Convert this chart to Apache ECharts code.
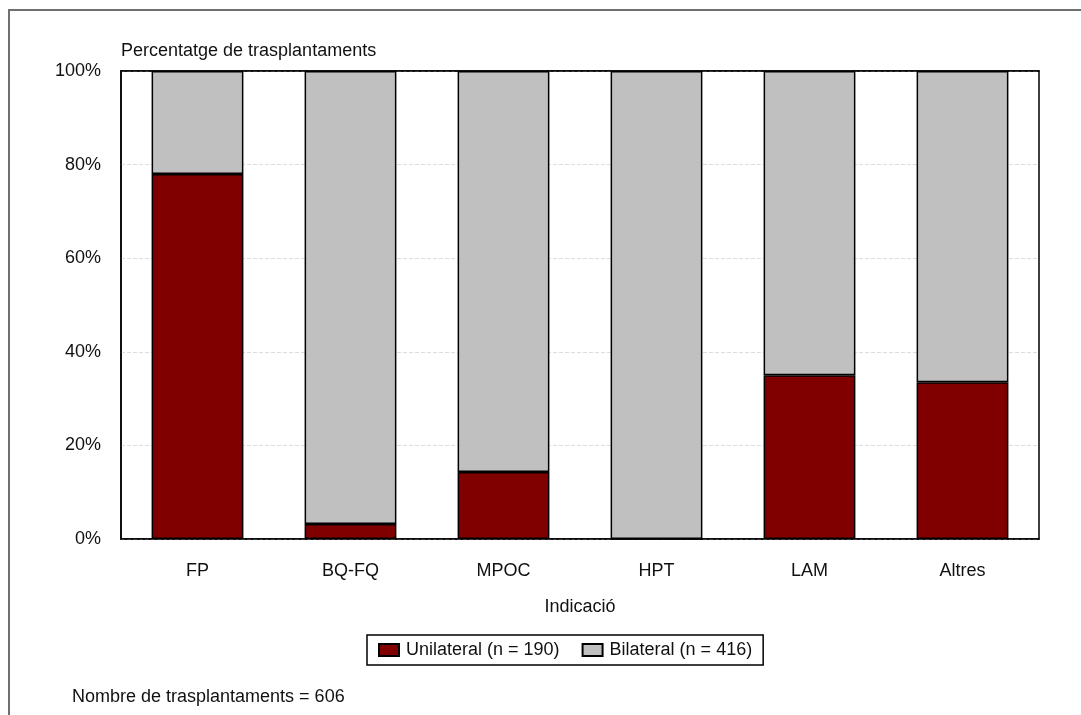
<!DOCTYPE html>
<html>
<head>
<meta charset="utf-8">
<script src="https://cdn.jsdelivr.net/npm/echarts@6/dist/echarts.min.js"></script>
<style>
  html, body { margin: 0; padding: 0; background: #fff; }
  #main { width: 1081px; height: 715px; }
</style>
</head>
<body>
<div id="main"></div>
<script>
// dades llegides de la figura (percentatge)
var categories = ['FP', 'BQ-FQ', 'MPOC', 'HPT', 'LAM', 'Altres'];
var unilateral = [78.0, 3.2, 14.3, 0, 35.0, 33.5];
var bilateral = [22.0, 96.8, 85.7, 100, 65.0, 66.5];
var yTicks = [0, 20, 40, 60, 80, 100];

var myChart = echarts.init(document.getElementById('main'));
var font = '"Liberation Sans", Arial, sans-serif';

myChart.setOption({
    animation: false,
    textStyle: { fontFamily: font },
    graphic: [
        {
            type: 'rect',
            shape: { x: 9, y: 10, width: 1200, height: 900 },
            style: { fill: 'none', stroke: '#707070', lineWidth: 2 },
            silent: true
        },
        {
            type: 'text',
            left: 121, top: 42,
            style: { text: 'Percentatge de trasplantaments', font: '18px ' + font, fill: '#111' }
        },
        {
            type: 'text',
            left: 72, top: 688,
            style: { text: 'Nombre de trasplantaments = 606', font: '18px ' + font, fill: '#111' }
        }
    ],
    grid: {
        left: 121,
        right: 42,
        top: 71,
        bottom: 176,
        show: true,
        borderColor: '#000',
        borderWidth: 1.5,
        backgroundColor: '#fff'
    },
    legend: {
        left: 367,
        top: 635,
        icon: 'rect',
        itemWidth: 20,
        itemHeight: 12,
        itemGap: 22,
        padding: [6, 11],
        borderColor: '#000',
        borderWidth: 1.5,
        textStyle: { fontSize: 18, color: '#111', fontFamily: font, padding: [0, 0, 0, 2] },
        data: ['Unilateral (n = 190)', 'Bilateral (n = 416)']
    },
    xAxis: [
        {
            type: 'category',
            data: categories,
            name: 'Indicació',
            nameLocation: 'middle',
            nameGap: 59,
            nameTextStyle: { fontSize: 18, color: '#111' },
            axisLine: { lineStyle: { color: '#000', width: 1.5 } },
            axisTick: { show: false },
            axisLabel: { fontSize: 18, color: '#111', margin: 23 }
        },
        {
            type: 'category',
            data: categories,
            position: 'top',
            axisLine: { lineStyle: { color: '#000', width: 1.5 } },
            axisTick: { show: false },
            axisLabel: { show: false }
        }
    ],
    yAxis: {
        type: 'value',
        min: 0,
        max: 100,
        interval: 20,
        axisLine: { show: true, lineStyle: { color: '#000', width: 1.5 } },
        axisTick: { show: false },
        axisLabel: {
            fontSize: 18, color: '#111', margin: 20,
            formatter: function (v) { return yTicks.indexOf(v) >= 0 ? v + '%' : ''; }
        },
        splitLine: { lineStyle: { color: '#dcdcdc', type: 'dashed', width: 1 } }
    },
    series: [
        {
            name: 'Unilateral (n = 190)',
            type: 'bar',
            stack: 'total',
            barWidth: '60%',
            data: unilateral,
            itemStyle: { color: '#800000', borderColor: '#000', borderWidth: 1.5 }
        },
        {
            name: 'Bilateral (n = 416)',
            type: 'bar',
            stack: 'total',
            barWidth: '60%',
            data: bilateral,
            itemStyle: { color: '#c0c0c0', borderColor: '#000', borderWidth: 1.5 }
        }
    ]
});
</script>
</body>
</html>
